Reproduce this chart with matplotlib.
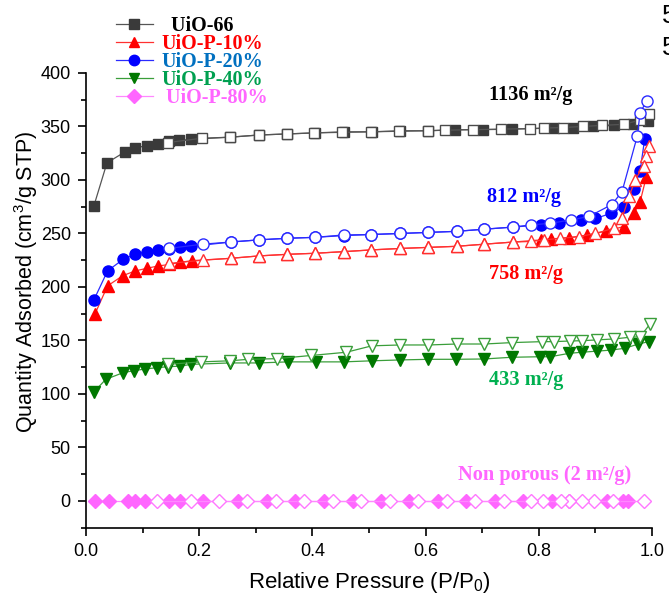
"""
N2 adsorption/desorption isotherms for UiO-66 and the UiO-P series.

Filled markers are the adsorption branch, open markers the desorption branch.
Saves out.png.
"""

import matplotlib
matplotlib.use("Agg")
import matplotlib.pyplot as plt
from matplotlib.lines import Line2D
from matplotlib.ticker import MultipleLocator

plt.rcParams["font.family"] = ["Liberation Sans", "DejaVu Sans"]

# ---------------------------------------------------------------------------
# Isotherm data  (P/P0, cm3/g STP)
# ---------------------------------------------------------------------------

uio66_ads_x = [0.014, 0.037, 0.068, 0.087, 0.107, 0.127, 0.146, 0.165, 0.186, 0.255, 0.305,
               0.355, 0.405, 0.455, 0.505, 0.555, 0.605, 0.652, 0.702, 0.752, 0.826, 0.861,
               0.896, 0.932, 0.966, 0.993]
uio66_ads_y = [276, 316, 326, 330, 332, 334, 336, 337, 338, 340, 342,
               343, 344, 345, 345, 346, 346, 347, 347, 347.5, 348.5, 349,
               350, 351, 352, 355]
uio66_des_x = [0.995, 0.979, 0.950, 0.911, 0.878, 0.843, 0.810, 0.784, 0.734, 0.684, 0.635,
               0.604, 0.553, 0.503, 0.453, 0.403, 0.355, 0.305, 0.255, 0.205, 0.145]
uio66_des_y = [362, 356, 352, 351, 350, 349, 348.5, 348, 347.5, 347, 346.5,
               346, 345.5, 345, 344.5, 344, 343, 342, 340, 339, 335]

p10_ads_x = [0.016, 0.038, 0.065, 0.087, 0.107, 0.127, 0.147, 0.166, 0.187, 0.256, 0.305,
             0.355, 0.405, 0.455, 0.503, 0.555, 0.605, 0.655, 0.704, 0.755, 0.804, 0.822,
             0.853, 0.886, 0.918, 0.950, 0.968, 0.979, 0.990]
p10_ads_y = [175, 201, 210.6, 215, 217.4, 219.6, 221, 223, 224.6, 226.8, 229,
             230.5, 231.5, 233, 234.6, 236, 237, 238, 240, 242, 244, 245,
             246, 248.6, 252, 256.5, 268.7, 279.6, 303]
p10_des_x = [0.995, 0.990, 0.985, 0.970, 0.960, 0.947, 0.933, 0.900, 0.871, 0.838, 0.810,
             0.786, 0.755, 0.704, 0.655, 0.605, 0.555, 0.503, 0.455, 0.405, 0.355, 0.305,
             0.256, 0.206, 0.147]
p10_des_y = [332, 322, 313, 300, 285, 264, 255, 250, 247, 245.5, 244,
             242.5, 242, 240, 238, 237, 236, 234.6, 233, 231.5, 230.5, 229,
             226.8, 225, 222]

p20_ads_x = [0.014, 0.038, 0.066, 0.087, 0.107, 0.127, 0.146, 0.166, 0.186, 0.256, 0.305,
             0.355, 0.405, 0.455, 0.503, 0.555, 0.605, 0.655, 0.704, 0.755, 0.804, 0.836,
             0.874, 0.900, 0.927, 0.950, 0.968, 0.979, 0.987]
p20_ads_y = [188, 215, 226, 230.5, 233, 234.6, 235.5, 237, 238, 242, 244,
             245.5, 246.4, 248, 249, 250, 251, 252, 254, 256, 258, 259.4,
             262.6, 264, 268.7, 274.8, 292, 308.8, 338]
p20_des_x = [0.991, 0.979, 0.974, 0.947, 0.929, 0.889, 0.857, 0.819, 0.786, 0.755, 0.704,
             0.655, 0.605, 0.555, 0.503, 0.455, 0.405, 0.355, 0.305, 0.256, 0.206, 0.146]
p20_des_y = [374, 363, 341, 289, 277, 266, 262.6, 259.4, 258, 256, 254,
             252, 251, 250, 249, 248.6, 246.4, 245.5, 244, 242, 240, 236]

p40_ads_x = [0.014, 0.035, 0.066, 0.085, 0.105, 0.126, 0.145, 0.166, 0.186, 0.254, 0.306,
             0.356, 0.406, 0.455, 0.505, 0.555, 0.605, 0.654, 0.703, 0.752, 0.802, 0.820,
             0.854, 0.876, 0.902, 0.927, 0.952, 0.976, 0.995]
p40_ads_y = [102, 113.7, 120, 121.8, 123.4, 124.6, 125.5, 126, 127.7, 129, 129,
             130, 130, 130, 131, 131.8, 132.4, 132.4, 132.7, 134.3, 134.8, 134.8,
             138, 139, 140, 141, 142.7, 146.7, 149]
p40_des_x = [0.996, 0.979, 0.961, 0.932, 0.902, 0.876, 0.855, 0.826, 0.805, 0.752, 0.704,
             0.655, 0.605, 0.555, 0.505, 0.460, 0.398, 0.337, 0.287, 0.254, 0.203, 0.145]
p40_des_y = [165, 153.5, 153, 151.4, 150.5, 149.8, 149.5, 148.9, 148.9, 148, 146.7,
             146.7, 145.8, 145.8, 145, 139, 136, 133, 132.4, 131, 130, 127.7]

p80_ads_x = [0.016, 0.040, 0.074, 0.087, 0.105, 0.146, 0.166, 0.206, 0.269, 0.320, 0.370,
             0.420, 0.471, 0.522, 0.571, 0.622, 0.671, 0.722, 0.772, 0.823, 0.853, 0.921,
             0.948, 0.958]
p80_ads_y = [0, 0, 0, 0, 0, 0, 0, 0, 0, 0, 0,
             0, 0, 0, 0, 0, 0, 0, 0, 0, 0, 0,
             0, 0]
p80_des_x = [0.985, 0.931, 0.897, 0.877, 0.853, 0.840, 0.807, 0.787, 0.738, 0.688, 0.637,
             0.586, 0.537, 0.486, 0.436, 0.385, 0.336, 0.284, 0.235, 0.186, 0.126]
p80_des_y = [0, 0, 0, 0, 0, 0, 0, 0, 0, 0, 0,
             0, 0, 0, 0, 0, 0, 0, 0, 0, 0]

series_names = ["  UiO-66", "UiO-P-10%", "UiO-P-20%", "UiO-P-40%", " UiO-P-80%"]
# BET surface area of each sample, same order as series_names
surface_areas = ["1136 m²/g", "758 m²/g", "812 m²/g", "433 m²/g", "Non porous (2 m²/g)"]

# ---------------------------------------------------------------------------
# Styles
# ---------------------------------------------------------------------------

STYLES = [
    # marker, filled colour, open edge colour, line colour, legend text, label text
    dict(marker="s", fill="#3a3a3a", edge="#4a4a4a", line="#555555",
         text="#000000", note="#000000", ms=7.0),
    dict(marker="^", fill="#ff0000", edge="#ff3030", line="#ff3030",
         text="#ff0000", note="#ff0000", ms=8.0),
    dict(marker="o", fill="#0000ff", edge="#2a2aff", line="#2a2aff",
         text="#0070c0", note="#0000ff", ms=8.0),
    dict(marker="v", fill="#007800", edge="#3a9e3a", line="#3a9e3a",
         text="#00a050", note="#00b050", ms=8.0),
    dict(marker="D", fill="#ff66ff", edge="#ff77ff", line="#ff88ff",
         text="#ff66ff", note="#ff66ff", ms=7.5),
]

SERIES = [
    (uio66_ads_x, uio66_ads_y, uio66_des_x, uio66_des_y),
    (p10_ads_x, p10_ads_y, p10_des_x, p10_des_y),
    (p20_ads_x, p20_ads_y, p20_des_x, p20_des_y),
    (p40_ads_x, p40_ads_y, p40_des_x, p40_des_y),
    (p80_ads_x, p80_ads_y, p80_des_x, p80_des_y),
]

# label anchor (P/P0, quantity), same order as the series
NOTE_POS = [(0.712, 379), (0.712, 212), (0.708, 284), (0.712, 113), (0.658, 24)]

SERIF_BOLD = dict(family=["Liberation Serif", "DejaVu Serif"], weight="bold")


def _draw_branch(ax, x, y, st, filled):
    face = st["fill"] if filled else "white"
    edge = st["fill"] if filled else st["edge"]
    ax.plot(x, y, color=st["line"], linewidth=0.9, marker=st["marker"],
            markersize=st["ms"], markerfacecolor=face, markeredgecolor=edge,
            markeredgewidth=1.0, clip_on=False, zorder=3 if filled else 4)


fig = plt.figure(figsize=(6.69, 5.98), dpi=100)
ax = fig.add_axes([0.1286, 0.1175, 0.846, 0.7605])

for (ax_x, ax_y, de_x, de_y), st in zip(SERIES, STYLES):
    _draw_branch(ax, ax_x, ax_y, st, filled=True)
    _draw_branch(ax, de_x, de_y, st, filled=False)

for text, (px, qy), st in zip(surface_areas, NOTE_POS, STYLES):
    ax.text(px, qy, text, color=st["note"], fontsize=14.6, ha="left", va="center",
            **SERIF_BOLD)

# axes
ax.set_xlim(0.0, 1.0)
ax.set_ylim(-25, 400)
ax.xaxis.set_major_locator(MultipleLocator(0.2))
ax.xaxis.set_minor_locator(MultipleLocator(0.1))
ax.yaxis.set_major_locator(MultipleLocator(50))
ax.yaxis.set_minor_locator(MultipleLocator(25))
ax.xaxis.set_major_formatter(lambda v, pos: f"{v:.1f}")
ax.tick_params(which="major", direction="out", length=6, width=1.2, labelsize=13,
               pad=5)
ax.tick_params(which="minor", direction="out", length=3.5, width=1.2)
for side in ("top", "right"):
    ax.spines[side].set_visible(False)
for side in ("left", "bottom"):
    ax.spines[side].set_linewidth(1.2)

ax.set_xlabel(r"Relative Pressure (P/P$_\mathregular{0}$)", fontsize=16, labelpad=7)
ax.set_ylabel(r"Quantity Adsorbed (cm$^\mathregular{3}$/g STP)", fontsize=15.5)
ax.yaxis.set_label_coords(-0.082, 0.54)

# legend: line + filled marker per sample, rows packed tightly
handles = [
    Line2D([], [], color=st["line"], linewidth=0.9, marker=st["marker"],
           markersize=st["ms"] - 0.5, markerfacecolor=st["fill"],
           markeredgecolor=st["fill"])
    for st in STYLES
]
leg = fig.legend(handles, series_names, loc="upper left",
                 bbox_to_anchor=(0.158, 0.99), frameon=False,
                 prop=dict(size=14.5, **SERIF_BOLD), handlelength=1.85,
                 handletextpad=0.4, labelspacing=-0.1, borderpad=0.0)
for txt, st in zip(leg.get_texts(), STYLES):
    txt.set_color(st["text"])

# neighbouring panel text cut off at the right edge
fig.text(0.990, 0.994, "5", fontsize=19, ha="left", va="top")
fig.text(0.990, 0.940, "5", fontsize=19, ha="left", va="top")

fig.savefig("out.png", dpi=100)
